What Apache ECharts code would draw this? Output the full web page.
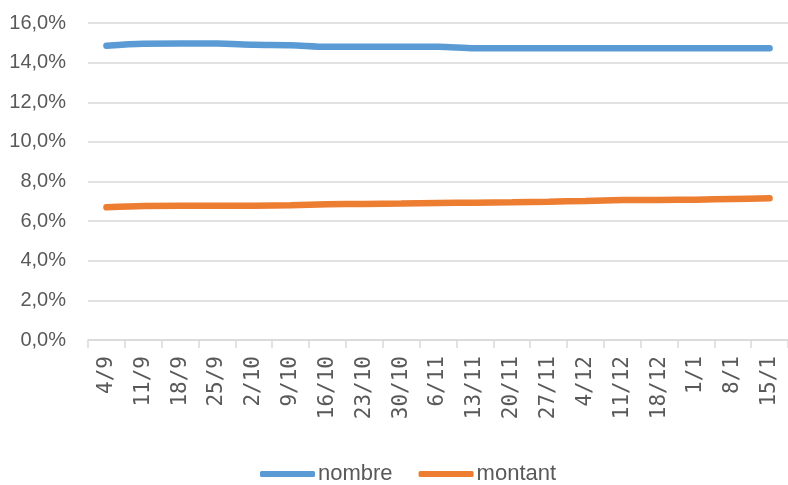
<!DOCTYPE html>
<html>
<head>
<meta charset="utf-8">
<script src="https://cdn.jsdelivr.net/npm/echarts@6/dist/echarts.min.js"></script>
<style>html,body{margin:0;padding:0;background:#fff}#c{width:788px;height:485px}</style>
</head>
<body>
<div id="c"></div>
<script>
const categories = ['4/9','11/9','18/9','25/9','2/10','9/10','16/10','23/10','30/10','6/11','13/11','20/11','27/11','4/12','11/12','18/12','1/1','8/1','15/1'];
const nombre = [14.85,14.95,14.96,14.96,14.9,14.88,14.8,14.8,14.8,14.8,14.72,14.72,14.72,14.72,14.72,14.72,14.72,14.72,14.72];
const montant = [6.70,6.76,6.77,6.77,6.78,6.80,6.85,6.87,6.89,6.92,6.93,6.95,6.98,7.02,7.06,7.07,7.08,7.12,7.15];
const yTicks = {min:0, max:16, interval:2};

const chart = echarts.init(document.getElementById('c'));
chart.setOption({
  animation:false,
  grid:{left:88, top:23, width:707, height:317, containLabel:false},
  legend:{
    top:458, left:255,
    itemWidth:55, itemHeight:6, itemGap:26,
    textStyle:{color:'#595959', fontSize:22, fontFamily:'Liberation Sans, sans-serif', padding:[0,0,0,-2]},
    data:[{name:'nombre', icon:'roundRect'},{name:'montant', icon:'roundRect'}]
  },
  xAxis:{
    type:'category', data:categories, boundaryGap:true,
    axisLine:{lineStyle:{color:'#D9D9D9', width:1.5}},
    axisTick:{show:true, length:8, lineStyle:{color:'#D9D9D9', width:1.5}},
    axisLabel:{rotate:90, interval:0, color:'#595959', fontSize:21, fontFamily:'DejaVu Sans Mono, monospace', margin:16}
  },
  yAxis:{
    type:'value', min:yTicks.min, max:yTicks.max, interval:yTicks.interval,
    axisLine:{show:false}, axisTick:{show:false},
    splitLine:{lineStyle:{color:'#D9D9D9', width:1.5}},
    axisLabel:{color:'#595959', fontSize:20, fontFamily:'Liberation Sans, sans-serif', margin:22,
      formatter:v=>v.toFixed(1).replace('.',',')+'%'}
  },
  series:[
    {name:'nombre', type:'line', data:nombre, smooth:0.3, symbol:'none',
     lineStyle:{color:'#5B9BD5', width:6.5, cap:'round'}, itemStyle:{color:'#5B9BD5'}},
    {name:'montant', type:'line', data:montant, smooth:0.3, symbol:'none',
     lineStyle:{color:'#ED7D31', width:6.5, cap:'round'}, itemStyle:{color:'#ED7D31'}}
  ]
});
</script>
</body>
</html>
